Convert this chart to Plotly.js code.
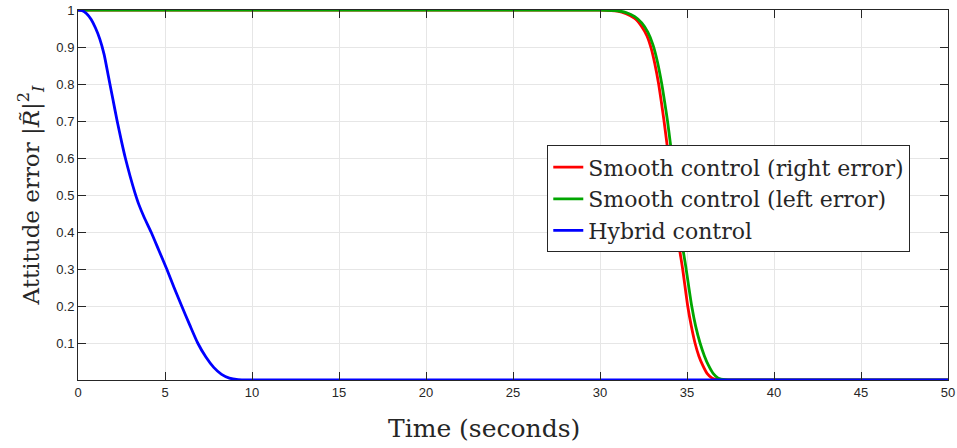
<!DOCTYPE html>
<html>
<head>
<meta charset="utf-8">
<script src="https://cdn.plot.ly/plotly-3.0.1.min.js"></script>
<style>
  html, body { margin: 0; padding: 0; background: #fff; }
  #chart { width: 957px; height: 448px; }
</style>
</head>
<body>
<div id="chart"></div>
<script>
// Attitude error over time for three controllers
const tRight = [0, 30, 31, 31.5, 32, 32.4, 32.7, 32.95, 33.15, 33.37, 33.53, 33.68, 33.83, 34.0, 34.17, 34.35, 34.5, 34.75, 35.04, 35.25, 35.46, 35.68, 35.9, 36.15, 36.45, 36.8, 37.2, 50];
const errRight = [1, 1, 0.997, 0.99, 0.977, 0.955, 0.93, 0.895, 0.855, 0.8, 0.75, 0.7, 0.645, 0.58, 0.51, 0.44, 0.375, 0.3, 0.2, 0.145, 0.1, 0.065, 0.04, 0.018, 0.005, 0.001, 0, 0];

const tLeft = [0, 30, 31, 31.5, 32, 32.4, 32.75, 33.05, 33.3, 33.55, 33.72, 33.88, 34.03, 34.2, 34.37, 34.55, 34.7, 34.95, 35.27, 35.5, 35.75, 36.0, 36.23, 36.5, 36.8, 37.2, 37.6, 50];
const errLeft = [1, 1, 0.998, 0.993, 0.982, 0.965, 0.94, 0.905, 0.86, 0.8, 0.75, 0.7, 0.645, 0.58, 0.51, 0.44, 0.375, 0.3, 0.2, 0.145, 0.1, 0.065, 0.04, 0.018, 0.005, 0.001, 0, 0];

const tHybrid = [0, 0.25, 0.5, 0.75, 1.0, 1.25, 1.5, 1.75, 2.0, 2.25, 2.5, 2.72, 3.0, 3.26, 3.5, 3.8, 4.2, 4.65, 5.1, 5.52, 5.96, 6.42, 6.88, 7.35, 7.8, 8.25, 8.7, 9.2, 9.8, 50];
const errHybrid = [1, 0.998, 0.99, 0.975, 0.952, 0.922, 0.88, 0.82, 0.76, 0.7, 0.645, 0.6, 0.55, 0.508, 0.474, 0.44, 0.4, 0.35, 0.3, 0.25, 0.2, 0.149, 0.1, 0.062, 0.034, 0.015, 0.005, 0.001, 0, 0];

const seriesNames = ['Smooth control (right error)', 'Smooth control (left error)', 'Hybrid control'];
const xTicks = [0, 5, 10, 15, 20, 25, 30, 35, 40, 45, 50];
const yTicks = [0.1, 0.2, 0.3, 0.4, 0.5, 0.6, 0.7, 0.8, 0.9, 1];
const yTickText = ['0.1', '0.2', '0.3', '0.4', '0.5', '0.6', '0.7', '0.8', '0.9', '1'];
const xTitle = 'Time (seconds)';
const yTitle = 'Attitude error |<i>R̃</i>|<sup>2</sup><sub><i>I</i></sub>';

const serif = 'DejaVu Serif, Liberation Serif, serif';
const lineW = 2.8;
const traces = [
  { x: tRight, y: errRight, name: seriesNames[0], mode: 'lines',
    line: { color: '#ff0000', width: lineW, shape: 'spline', smoothing: 0.6 } },
  { x: tLeft, y: errLeft, name: seriesNames[1], mode: 'lines',
    line: { color: '#00a600', width: lineW, shape: 'spline', smoothing: 0.6 } },
  { x: tHybrid, y: errHybrid, name: seriesNames[2], mode: 'lines',
    line: { color: '#0000ff', width: lineW, shape: 'spline', smoothing: 0.6 } }
];

const axisCommon = {
  showline: true, linecolor: '#262626', linewidth: 1, mirror: 'allticks',
  ticks: 'inside', ticklen: 8, tickwidth: 1, tickcolor: '#262626',
  showgrid: true, gridcolor: '#e6e6e6', gridwidth: 1, zeroline: false,
  tickfont: { family: 'Liberation Sans, Arial, sans-serif', size: 13, color: '#262626' }
};

const layout = {
  width: 957, height: 448,
  margin: { l: 78, r: 9, t: 10, b: 68 },
  paper_bgcolor: '#ffffff', plot_bgcolor: '#ffffff',
  showlegend: true,
  xaxis: Object.assign({}, axisCommon, {
    range: [0, 50], tickvals: xTicks, ticktext: xTicks.map(String)
  }),
  yaxis: Object.assign({}, axisCommon, {
    range: [0, 1], tickvals: yTicks, ticktext: yTickText,
    title: { text: yTitle, standoff: 10,
      font: { family: serif, size: 23, color: '#262626' } }
  }),
  annotations: [
    { text: xTitle, xref: 'paper', yref: 'paper', x: 0.4667, y: -0.13,
      xanchor: 'center', yanchor: 'middle', showarrow: false,
      font: { family: serif, size: 25, color: '#262626' } }
  ],
  legend: {
    x: 0.5394, y: 0.634, xanchor: 'left', yanchor: 'top',
    bgcolor: '#ffffff', bordercolor: '#262626', borderwidth: 1,
    font: { family: serif, size: 22, color: '#262626' },
    tracegroupgap: 0, itemwidth: 30
  }
};

Plotly.newPlot('chart', traces, layout, { displayModeBar: false, staticPlot: true });
</script>
</body>
</html>
